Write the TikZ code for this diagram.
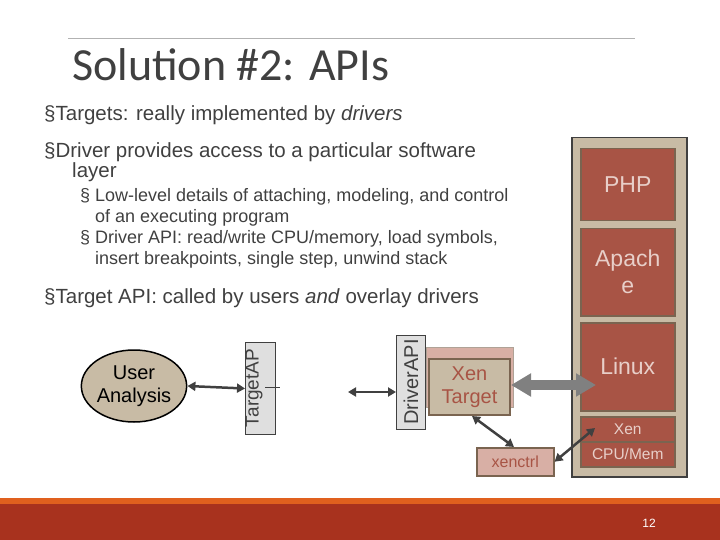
\documentclass[tikz,border=0pt]{standalone}
\usepackage{fontspec}
\setmainfont{Liberation Sans}
\newfontfamily\titlefont{Carlito}
\usetikzlibrary{arrows.meta,shapes.geometric}
\definecolor{brick}{HTML}{A85445}
\definecolor{brickline}{HTML}{7A6450}
\definecolor{tan}{HTML}{C8BBA5}
\definecolor{pinkish}{HTML}{D8AFA5}
\definecolor{darkg}{HTML}{404040}
\definecolor{band}{HTML}{A8321E}
\definecolor{orangeline}{HTML}{E0601E}
\begin{document}
\begin{tikzpicture}[x=1pt,y=-1pt,
  txt/.style={anchor=north west,inner sep=0,align=left,text=darkg},
  stk/.style={draw=brickline,line width=1.5pt,fill=brick,text=pinkish!60!white,font=\fontsize{23}{27}\selectfont,align=center,inner sep=0},
  dbl/.style={{Triangle[width=9pt,length=8pt]}-{Triangle[width=9pt,length=8pt]},line width=2.5pt,draw=darkg}]
\useasboundingbox (0,0) rectangle (720,540);
\draw[gray!60,line width=0.6pt] (68,38) -- (635,38);
\node[anchor=base west,inner sep=0,text=darkg,font=\titlefont\fontsize{46}{48}\selectfont] (title) at (72,81) {Solution \#2: APIs};
\node[txt,font=\fontsize{20.5}{20}\selectfont] (b1) at (44,105) {§Targets: really implemented by \textit{drivers}};
\node[txt,font=\fontsize{20.5}{20}\selectfont] (b2) at (44,142) {§Driver provides access to a particular software\\\hspace*{28pt}layer};
\node[txt,font=\fontsize{18}{21}\selectfont] (b3) at (80,188) {§ Low-level details of attaching, modeling, and control\\\hspace*{15pt}of an executing program\\§ Driver API: read/write CPU/memory, load symbols,\\\hspace*{15pt}insert breakpoints, single step, unwind stack};
\node[txt,font=\fontsize{20.5}{20}\selectfont] (b4) at (44,288) {§Target API: called by users \textit{and} overlay drivers};
% stack
\node[draw=darkg,line width=1.5pt,fill=tan,minimum width=115,minimum height=339,anchor=north west,inner sep=0] (stack) at (571,137) {};
\node[stk,minimum width=94,minimum height=72,anchor=north west] (php) at (580,148) {PHP};
\node[stk,minimum width=94,minimum height=87,anchor=north west] (apache) at (580,228) {Apach\\e};
\node[stk,minimum width=94,minimum height=88,anchor=north west] (linux) at (580,322) {Linux};
\node[stk,minimum width=94,minimum height=25,anchor=north west,font=\fontsize{15.5}{17}\selectfont] (xen) at (580,416) {Xen};
\node[stk,minimum width=94,minimum height=25,anchor=north west,font=\fontsize{15.5}{17}\selectfont] (cpu) at (580,441) {CPU/Mem};
% left side
\node[ellipse,draw=black,line width=1.5pt,fill=tan,minimum width=104,minimum height=72,inner sep=0,align=center,font=\fontsize{20}{23}\selectfont] (user) at (134,386) {User\\Analysis};
\node[draw=darkg,line width=1pt,fill=gray!25,minimum width=30,minimum height=92,inner sep=0,anchor=north west] (tapi) at (245,342) {};
\node[rotate=90,inner sep=0,font=\fontsize{19}{21}\selectfont,text=darkg] (tapit) at (254,388) {TargetAP};
\draw[darkg,line width=1pt] (265,387) -- (280,387);
\draw[dbl] (user.east) -- (tapi.west);
\node[draw=darkg,line width=1pt,fill=gray!25,minimum width=29,minimum height=94,inner sep=0,anchor=north west] (dapi) at (396,335) {};
\node[rotate=90,inner sep=0,font=\fontsize{20}{22}\selectfont,text=darkg] (dapit) at (411,382) {DriverAPI};
\coordinate (dfree) at (348,392);
\draw[dbl] (dfree) -- (dapi.west |- dfree);
\node[draw=brickline!60,line width=1pt,fill=pinkish,minimum width=87,minimum height=60,anchor=north west,inner sep=0] (xto) at (426,347) {};
\node[draw=brickline,line width=2pt,fill=tan,minimum width=81,minimum height=56,anchor=north west,inner sep=0,align=center,text=brick,font=\fontsize{20}{23}\selectfont] (xt) at (428,358) {Xen\\Target};
\node[draw=brickline,line width=1.5pt,fill=pinkish,minimum width=77,minimum height=28,anchor=north west,inner sep=0,text=brick,font=\fontsize{16}{18}\selectfont] (xc) at (476,447) {xenctrl};
\draw[dbl,line width=2.5pt] (472,416) -- (514,447);
\draw[dbl,line width=2.5pt] (xc.east) -- (595,428);
\draw[{Triangle[width=22pt,length=20pt]}-{Triangle[width=22pt,length=20pt]},line width=10pt,draw=gray] (xt.east |- 0,385) -- (596,385);
% bottom band
\fill[orangeline] (0,498) rectangle (720,504);
\fill[band] (0,504) rectangle (720,540);
\node[inner sep=0,text=white,font=\fontsize{12}{13}\selectfont] (pg) at (649,523) {12};
\end{tikzpicture}
\end{document}
